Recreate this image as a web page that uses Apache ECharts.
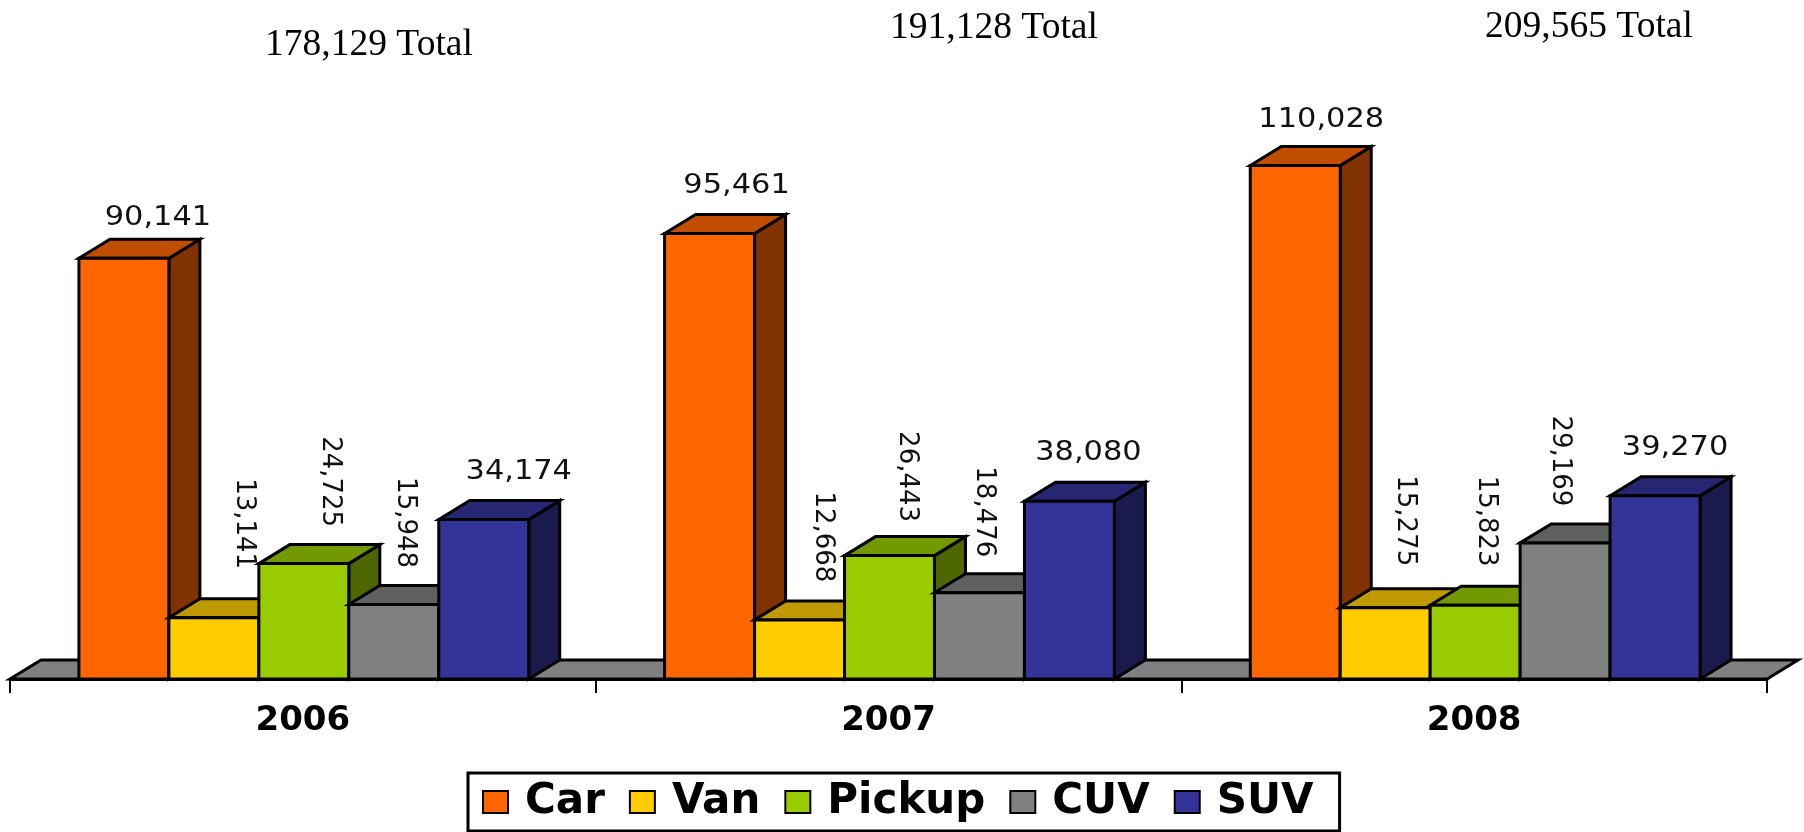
<!DOCTYPE html>
<html>
<head>
<meta charset="utf-8">
<title>Vehicle totals</title>
<style>
  html, body { margin: 0; padding: 0; background: #fff; }
  #main { width: 1804px; height: 832px; }
</style>
<script src="https://cdn.jsdelivr.net/npm/echarts@6/dist/echarts.min.js"></script>
</head>
<body>
<div id="main"></div>
<script>
var years = ['2006', '2007', '2008'];
var names = ['Car', 'Van', 'Pickup', 'CUV', 'SUV'];
var car = [90141, 95461, 110028];
var van = [13141, 12668, 15275];
var pickup = [24725, 26443, 15823];
var cuv = [15948, 18476, 29169];
var suv = [34174, 38080, 39270];
var totals = [178129, 191128, 209565];

var front = ['#FF6600', '#FFCC00', '#99CC00', '#808080', '#333399'];
var top3d = ['#C04D00', '#BF9900', '#739900', '#606060', '#262673'];
var side = ['#803300', '#806600', '#4D6600', '#404040', '#1A1A4D'];

// label nudges from the front-centre / back-top corner of each bar
var labelDx = [[34, 27, 26], [30, 23, 20], [26, 17, 11], [11, 4, -5], [35, 19, 20]];
var labelDy = [[-21, -28, -26], [-75, -64, -68], [-63, -60, -65], [-63, -62, -63], [-28, -29, -28]];
var labelTurned = [false, true, true, true, false];
var totalX = [369, 994, 1589];
var totalY = [45, 28, 27];

var depthX = 31, depthY = 19;
var barShare = 0.768 / 5;

function poly(points, fill) {
  return {
    type: 'polygon',
    shape: { points: points },
    style: { fill: fill, stroke: '#000', lineWidth: 3, lineJoin: 'miter' }
  };
}

function renderBar(s) {
  return function (params, api) {
    var cat = api.value(0);
    var val = api.value(1);
    var base = api.coord([cat, 0]);
    var head = api.coord([cat, val]);
    var band = api.size([1, 0])[0];
    var w = band * barShare;
    var x0 = base[0] - 2.5 * w + s * w + 1;
    var x1 = x0 + w;
    var y0 = base[1];
    var y1 = head[1];
    var turned = labelTurned[s];
    return {
      type: 'group',
      children: [
        poly([[x1, y1], [x1 + depthX, y1 - depthY], [x1 + depthX, y0 - depthY], [x1, y0]], side[s]),
        poly([[x0, y1], [x0 + depthX, y1 - depthY], [x1 + depthX, y1 - depthY], [x1, y1]], top3d[s]),
        poly([[x0, y1], [x1, y1], [x1, y0], [x0, y0]], front[s]),
        {
          type: 'text',
          x: x0 + w / 2 + labelDx[s][cat],
          y: y1 - depthY + labelDy[s][cat],
          rotation: turned ? -Math.PI / 2 : 0,
          scaleX: turned ? 1 : 1.17,
          style: {
            text: val.toLocaleString('en-US'),
            fontFamily: 'DejaVu Sans',
            fontSize: 26,
            fill: '#111',
            align: 'center',
            verticalAlign: 'middle'
          }
        }
      ]
    };
  };
}

function renderFloor(params, api) {
  var c = params.coordSys;
  var y = c.y + c.height;
  return poly([[c.x, y], [c.x + depthX, y - depthY], [c.x + c.width + depthX, y - depthY], [c.x + c.width, y]], '#808080');
}

var seriesValues = [car, van, pickup, cuv, suv];
var series = [{
  name: 'floor',
  type: 'custom',
  silent: true,
  renderItem: renderFloor,
  data: [[0, 0]],
  encode: { x: 0, y: 1 }
}];
names.forEach(function (name, s) {
  series.push({
    name: name,
    type: 'custom',
    renderItem: renderBar(s),
    itemStyle: { color: front[s] },
    encode: { x: 0, y: 1 },
    data: seriesValues[s].map(function (v, i) { return [i, v]; })
  });
});

var option = {
  animation: false,
  backgroundColor: '#fff',
  grid: { left: 10, width: 1757, top: 119, height: 560 },
  xAxis: {
    type: 'category',
    data: years,
    z: 5,
    axisLine: { lineStyle: { color: '#000', width: 3 } },
    axisTick: { show: true, alignWithLabel: false, length: 14, lineStyle: { color: '#000', width: 2 } },
    axisLabel: { color: '#000', fontFamily: 'DejaVu Sans', fontWeight: 'bold', fontSize: 34, margin: 25 }
  },
  yAxis: { type: 'value', min: 0, max: 120000, show: false },
  legend: {
    data: names,
    left: 468,
    top: 773,
    padding: [8, 26, 8, 14],
    itemWidth: 25,
    itemHeight: 22,
    itemGap: 24,
    icon: 'rect',
    backgroundColor: '#fff',
    borderColor: '#000',
    borderWidth: 3,
    borderRadius: 0,
    itemStyle: { borderColor: '#000', borderWidth: 2 },
    textStyle: { color: '#000', fontFamily: 'DejaVu Sans', fontWeight: 'bold', fontSize: 42, padding: [0, 0, 0, 12] }
  },
  graphic: totals.map(function (t, i) {
    return {
      type: 'text',
      x: totalX[i],
      y: totalY[i],
      style: {
        text: t.toLocaleString('en-US') + ' Total',
        fontFamily: 'Liberation Serif',
        fontSize: 37.5,
        fill: '#000',
        align: 'center',
        verticalAlign: 'middle'
      }
    };
  }),
  series: series
};

var myChart = echarts.init(document.getElementById('main'));
myChart.setOption(option);
</script>
</body>
</html>
